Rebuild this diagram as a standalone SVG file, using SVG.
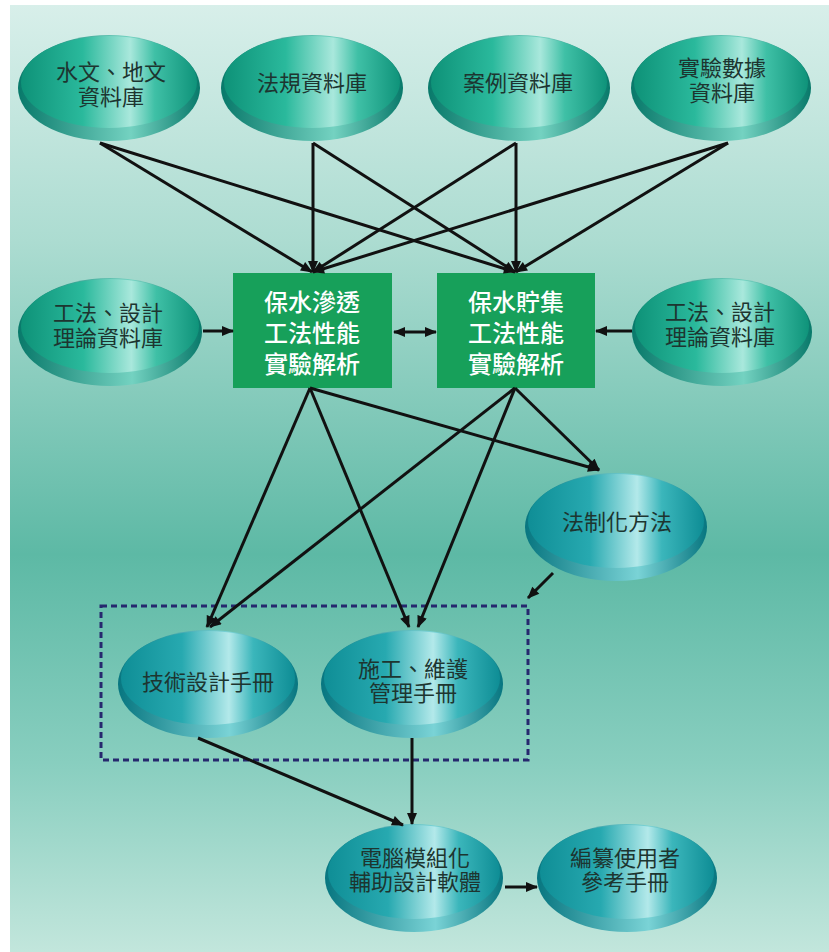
<svg xmlns="http://www.w3.org/2000/svg" width="829" height="952" viewBox="0 0 829 952">
<defs>
<linearGradient id="bg" x1="0" y1="0" x2="0" y2="1">
<stop offset="0" stop-color="#d8efea"/>
<stop offset="0.25" stop-color="#acdcd1"/>
<stop offset="0.58" stop-color="#5db9a5"/>
<stop offset="0.8" stop-color="#88cebf"/>
<stop offset="1" stop-color="#c2e6dc"/>
</linearGradient>
<linearGradient id="faceT" x1="0" y1="0" x2="1" y2="0">
<stop offset="0" stop-color="#0e9278"/>
<stop offset="0.35" stop-color="#2ab99c"/>
<stop offset="0.62" stop-color="#a9e8dc"/>
<stop offset="0.76" stop-color="#3fc0a6"/>
<stop offset="1" stop-color="#0f937a"/>
</linearGradient>
<linearGradient id="rimT" x1="0" y1="0" x2="1" y2="0">
<stop offset="0" stop-color="#08796a"/>
<stop offset="0.62" stop-color="#74d2c1"/>
<stop offset="1" stop-color="#08796a"/>
</linearGradient>
<linearGradient id="faceL" x1="0" y1="0" x2="1" y2="0">
<stop offset="0" stop-color="#0f8e96"/>
<stop offset="0.35" stop-color="#27a9b0"/>
<stop offset="0.62" stop-color="#b3e9ea"/>
<stop offset="0.76" stop-color="#3bb6bb"/>
<stop offset="1" stop-color="#0e8d95"/>
</linearGradient>
<linearGradient id="rimL" x1="0" y1="0" x2="1" y2="0">
<stop offset="0" stop-color="#077680"/>
<stop offset="0.62" stop-color="#7ad3d6"/>
<stop offset="1" stop-color="#077680"/>
</linearGradient>
<marker id="ah" viewBox="0 0 12 10" refX="11" refY="5" markerWidth="13" markerHeight="10" markerUnits="userSpaceOnUse" orient="auto-start-reverse">
<path d="M0,0 L12,5 L0,10 z" fill="#111"/>
</marker>
</defs>
<style>
.rT{fill:url(#rimT)}
.fT{fill:url(#faceT)}
.rL{fill:url(#rimL)}
.fL{fill:url(#faceL)}
.t{font-family:"Noto Sans CJK TC","Noto Sans CJK SC",sans-serif;font-size:22px;fill:#1d3530;text-anchor:middle}
.w{font-family:"Noto Sans CJK TC","Noto Sans CJK SC",sans-serif;font-size:24px;fill:#ffffff;text-anchor:middle;font-weight:500}
.box{fill:#17a05a}
.c{stroke:#111;stroke-width:3;fill:none;marker-end:url(#ah)}
</style>
<rect x="0" y="0" width="829" height="952" fill="#ffffff"/>
<rect x="10" y="5" width="819" height="947" fill="url(#bg)"/>

<g id="n-hydro" transform="translate(109,88)">
<ellipse class="rT" rx="91" ry="53"/><ellipse class="fT" cy="-6" rx="88" ry="46"/>
<text class="t" x="2" y="-8">水文、地文<tspan x="2" dy="25">資料庫</tspan></text>
</g>
<g id="n-law" transform="translate(312,88)">
<ellipse class="rT" rx="91" ry="53"/><ellipse class="fT" cy="-6" rx="88" ry="46"/>
<text class="t" x="0" y="3">法規資料庫</text>
</g>
<g id="n-case" transform="translate(519,88)">
<ellipse class="rT" rx="91" ry="53"/><ellipse class="fT" cy="-6" rx="88" ry="46"/>
<text class="t" x="-1" y="3">案例資料庫</text>
</g>
<g id="n-exp" transform="translate(721,88)">
<ellipse class="rT" rx="90" ry="53"/><ellipse class="fT" cy="-6" rx="87" ry="46"/>
<text class="t" x="1" y="-12">實驗數據<tspan x="1" dy="25">資料庫</tspan></text>
</g>

<g id="n-theoryL" transform="translate(110,332)">
<ellipse class="rT" rx="92" ry="54"/><ellipse class="fT" cy="-6" rx="89" ry="47"/>
<text class="t" x="-2" y="-11">工法、設計<tspan x="-2" dy="25">理論資料庫</tspan></text>
</g>
<g id="n-perm">
<rect class="box" x="233" y="273" width="159" height="115"/>
<text class="w" x="312" y="311">保水滲透<tspan x="312" dy="31">工法性能</tspan><tspan x="312" dy="31">實驗解析</tspan></text>
</g>
<g id="n-store">
<rect class="box" x="437" y="273" width="158" height="115"/>
<text class="w" x="516" y="311">保水貯集<tspan x="516" dy="31">工法性能</tspan><tspan x="516" dy="31">實驗解析</tspan></text>
</g>
<g id="n-theoryR" transform="translate(722,332)">
<ellipse class="rT" rx="90" ry="54"/><ellipse class="fT" cy="-6" rx="87" ry="47"/>
<text class="t" x="-2" y="-12">工法、設計<tspan x="-2" dy="25">理論資料庫</tspan></text>
</g>

<g id="n-legal" transform="translate(616,527)">
<ellipse class="rL" rx="91" ry="54"/><ellipse class="fL" cy="-6" rx="88" ry="47"/>
<text class="t" x="1" y="3">法制化方法</text>
</g>

<g id="group-manuals">
<rect x="101" y="606" width="427" height="154" fill="none" stroke="#26286e" stroke-width="3" stroke-dasharray="6 4"/>
</g>
<g id="n-tech" transform="translate(208,684)">
<ellipse class="rL" rx="90" ry="54"/><ellipse class="fL" cy="-6" rx="87" ry="47"/>
<text class="t" x="0" y="6">技術設計手冊</text>
</g>
<g id="n-maint" transform="translate(412,684)">
<ellipse class="rL" rx="91" ry="54"/><ellipse class="fL" cy="-6" rx="88" ry="47"/>
<text class="t" x="1" y="-7">施工、維護<tspan x="1" dy="24">管理手冊</tspan></text>
</g>
<g id="n-soft" transform="translate(414,878)">
<ellipse class="rL" rx="89" ry="54"/><ellipse class="fL" cy="-6" rx="86" ry="47"/>
<text class="t" x="1" y="-12">電腦模組化<tspan x="1" dy="24">輔助設計軟體</tspan></text>
</g>
<g id="n-ref" transform="translate(627,878)">
<ellipse class="rL" rx="90" ry="54"/><ellipse class="fL" cy="-6" rx="87" ry="47"/>
<text class="t" x="-2" y="-12">編纂使用者<tspan x="-2" dy="24">參考手冊</tspan></text>
</g>

<g id="connectors">
<path class="c" d="M100,143 L312,272"/>
<path class="c" d="M100,143 L515,272"/>
<path class="c" d="M313,143 L313,272"/>
<path class="c" d="M313,143 L515,272"/>
<path class="c" d="M516,143 L313,272"/>
<path class="c" d="M516,143 L516,272"/>
<path class="c" d="M728,143 L313,272"/>
<path class="c" d="M728,143 L516,272"/>
<path class="c" d="M203,331 L233,331"/>
<path class="c" d="M632,331 L596,331"/>
<path class="c" d="M394,332 L436,332" marker-start="url(#ah)"/>
<path class="c" d="M310,388 L207,627"/>
<path class="c" d="M310,388 L409,627"/>
<path class="c" d="M310,388 L599,470"/>
<path class="c" d="M515,388 L210,627"/>
<path class="c" d="M515,388 L418,627"/>
<path class="c" d="M515,388 L599,470"/>
<path class="c" d="M553,573 L528,598"/>
<path class="c" d="M198,738 L403,825"/>
<path class="c" d="M412,738 L412,824"/>
<path class="c" d="M505,887 L537,887"/>
</g>
</svg>
